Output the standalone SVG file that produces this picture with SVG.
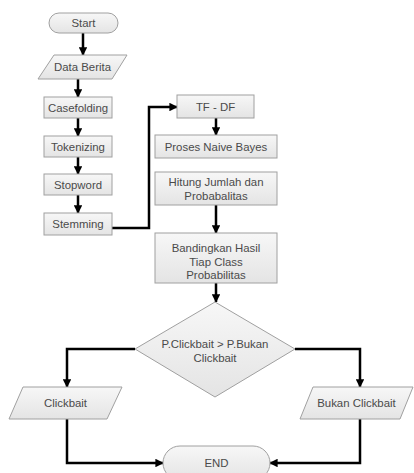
<svg xmlns="http://www.w3.org/2000/svg" width="414" height="473" viewBox="0 0 414 473">
<defs>
<linearGradient id="g" x1="0" y1="0" x2="0" y2="1">
<stop offset="0" stop-color="#f7f7f7"/>
<stop offset="1" stop-color="#e4e4e4"/>
</linearGradient>
<marker id="ah" viewBox="0 0 10 10" refX="9" refY="5" markerWidth="3.4" markerHeight="3.4" orient="auto" markerUnits="strokeWidth">
<path d="M0,0 L10,5 L0,10 z" fill="#000"/>
</marker>
</defs>
<style>
.n{fill:url(#g);stroke:#a0a0a0;stroke-width:1}
.t{font-family:"Liberation Sans",Arial,sans-serif;font-size:11.4px;fill:#4a4a4a;text-anchor:middle}
.c{fill:none;stroke:#000;stroke-width:2.5;marker-end:url(#ah)}
</style>
<rect width="414" height="473" fill="#fff"/>
<g id="connectors">
<path class="c" d="M83,33 V55"/>
<path class="c" d="M78,79 V97"/>
<path class="c" d="M78,118 V136"/>
<path class="c" d="M78,157 V174"/>
<path class="c" d="M78,195 V213"/>
<path class="c" d="M112,228 H149 V107 H177"/>
<path class="c" d="M216,118 V135"/>
<path class="c" d="M216,205 V233"/>
<path class="c" d="M216,283 V302"/>
<path class="c" d="M135,349 H67 V387"/>
<path class="c" d="M295,349 H360 V387"/>
<path class="c" d="M67,419 V463 H163"/>
<path class="c" d="M360,419 V463 H270"/>
</g>
<g id="start"><rect class="n" x="49" y="13" width="69" height="20" rx="10"/><text class="t" x="83.5" y="27">Start</text></g>
<g id="data-berita"><path class="n" d="M54,55 H127 L112,79 H38 Z"/><text class="t" x="82.5" y="71">Data Berita</text></g>
<g id="casefolding"><rect class="n" x="44" y="97" width="68" height="21"/><text class="t" x="78" y="111.5">Casefolding</text></g>
<g id="tokenizing"><rect class="n" x="44" y="136" width="68" height="21"/><text class="t" x="78" y="150.5">Tokenizing</text></g>
<g id="stopword"><rect class="n" x="44" y="174" width="68" height="21"/><text class="t" x="78" y="188.5">Stopword</text></g>
<g id="stemming"><rect class="n" x="44" y="213" width="68" height="22"/><text class="t" x="78" y="228">Stemming</text></g>
<g id="tf-df"><rect class="n" x="177" y="95" width="77" height="23"/><text class="t" x="215.5" y="110.5">TF - DF</text></g>
<g id="proses-naive-bayes"><rect class="n" x="155" y="135" width="122" height="23"/><text class="t" x="216" y="150.5">Proses Naive Bayes</text></g>
<g id="hitung"><rect class="n" x="155" y="172" width="122" height="33"/><text class="t" x="216" y="186">Hitung Jumlah dan</text><text class="t" x="216" y="199.5">Probabalitas</text></g>
<g id="bandingkan"><rect class="n" x="155" y="233" width="122" height="50"/><text class="t" x="216" y="252">Bandingkan Hasil</text><text class="t" x="216" y="265.5">Tiap Class</text><text class="t" x="216" y="279">Probabilitas</text></g>
<g id="decision"><path class="n" d="M215,302 L295,349 L215,397 L135,349 Z"/><text class="t" x="215" y="348">P.Clickbait &gt; P.Bukan</text><text class="t" x="215" y="362">Clickbait</text></g>
<g id="clickbait"><path class="n" d="M23,387 H122 L107,419 H9 Z"/><text class="t" x="65.5" y="407">Clickbait</text></g>
<g id="bukan-clickbait"><path class="n" d="M313,387 H413 L400,419 H300 Z"/><text class="t" x="356.5" y="407">Bukan Clickbait</text></g>
<g id="end"><rect class="n" x="163" y="446" width="107" height="34" rx="17"/><text class="t" x="216.5" y="467">END</text></g>
</svg>
